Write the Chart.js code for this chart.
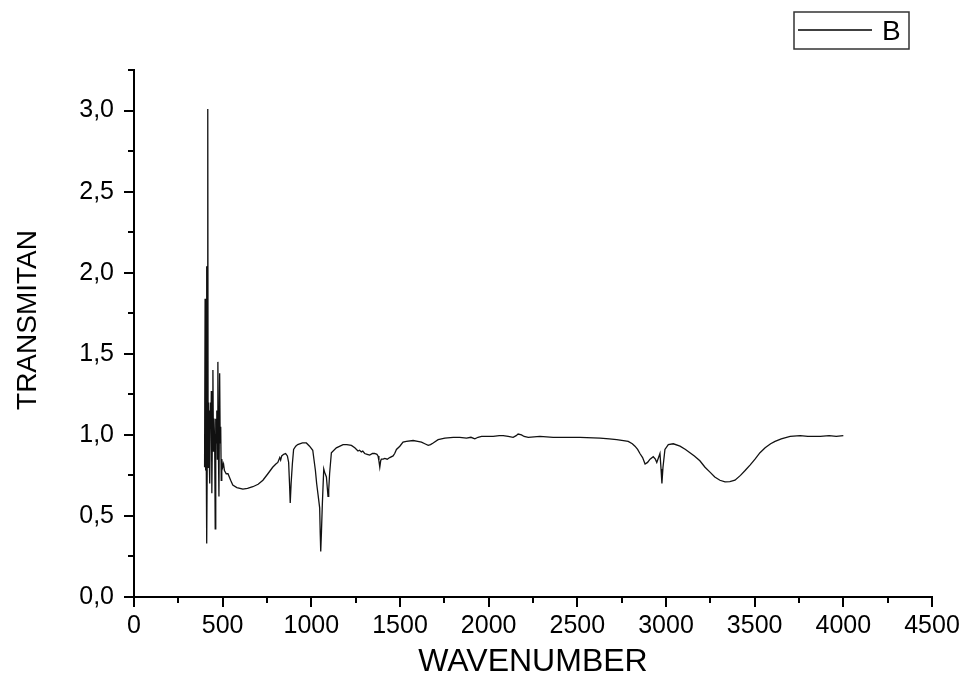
<!DOCTYPE html>
<html>
<head>
<meta charset="utf-8">
<title>FTIR spectrum</title>
<script src="https://cdn.jsdelivr.net/npm/chart.js@4.4.1/dist/chart.umd.min.js"></script>
<style>
  html, body { margin: 0; padding: 0; background: #fff; }
  #wrap { width: 965px; height: 677px; }
</style>
</head>
<body>
<div id="wrap"><canvas id="irChart"></canvas></div>
<script>
// spectrum, wavenumber (cm-1) vs transmittance
let wavenumbers = [
  398, 401, 403, 405, 407, 409, 411, 414, 416, 418, 420, 423, 426, 428, 431, 434, 436, 439, 442, 445,
  448, 451, 455, 458, 461, 464, 467, 470, 473, 476, 479, 483, 486, 489, 492, 495, 500, 505, 510, 520,
  530, 545, 557, 580, 614, 640, 670, 700, 727, 755, 782, 800, 811, 822, 827, 833, 844, 855, 865, 872,
  877, 881, 886, 893, 900, 912, 923, 950, 972, 990, 1008, 1023, 1030, 1038, 1047, 1050, 1053, 1057, 1062, 1070,
  1075, 1085, 1094, 1098, 1103, 1113, 1141, 1179, 1200, 1226, 1245, 1263, 1272, 1282, 1290, 1301, 1315, 1329, 1345, 1357,
  1370, 1376, 1381, 1386, 1391, 1395, 1405, 1414, 1428, 1442, 1461, 1470, 1480, 1499, 1517, 1536, 1574, 1600, 1621, 1640,
  1659, 1672, 1687, 1715, 1753, 1800, 1837, 1875, 1900, 1922, 1940, 1960, 2000, 2025, 2060, 2082, 2110, 2138, 2155, 2166,
  2185, 2200, 2223, 2289, 2364, 2450, 2515, 2628, 2680, 2722, 2760, 2787, 2810, 2825, 2840, 2853, 2868, 2882, 2896, 2910,
  2928, 2940, 2948, 2958, 2966, 2972, 2977, 2983, 2994, 3013, 3041, 3079, 3110, 3135, 3160, 3191, 3220, 3248, 3275, 3304,
  3333, 3360, 3389, 3420, 3446, 3475, 3502, 3530, 3559, 3590, 3615, 3650, 3700, 3757, 3800, 3870, 3920, 3960, 4000
];
let transmittance = [
  0.80, 1.84, 0.78, 1.84, 0.95, 2.04, 0.33, 1.00, 3.01, 0.80, 1.20, 0.95, 1.15, 0.70, 1.20, 1.05, 1.27, 0.64, 1.00, 1.40,
  0.90, 1.10, 0.95, 0.42, 1.10, 0.95, 1.15, 0.85, 1.45, 0.90, 0.62, 1.38, 0.95, 1.05, 0.72, 0.85, 0.80, 0.82, 0.78, 0.76,
  0.76, 0.72, 0.69, 0.675, 0.665, 0.67, 0.68, 0.695, 0.72, 0.76, 0.80, 0.82, 0.83, 0.86, 0.845, 0.87, 0.88, 0.885, 0.87, 0.83,
  0.70, 0.58, 0.70, 0.82, 0.91, 0.93, 0.94, 0.95, 0.95, 0.93, 0.905, 0.78, 0.70, 0.63, 0.55, 0.40, 0.28, 0.40, 0.57, 0.79,
  0.77, 0.74, 0.62, 0.66, 0.76, 0.89, 0.92, 0.94, 0.94, 0.935, 0.92, 0.90, 0.905, 0.895, 0.90, 0.885, 0.88, 0.875, 0.885, 0.885,
  0.88, 0.87, 0.84, 0.80, 0.84, 0.85, 0.85, 0.855, 0.85, 0.86, 0.87, 0.885, 0.91, 0.93, 0.955, 0.96, 0.965, 0.96, 0.955, 0.945,
  0.935, 0.94, 0.95, 0.97, 0.98, 0.985, 0.985, 0.98, 0.985, 0.975, 0.985, 0.99, 0.99, 0.99, 0.995, 0.995, 0.99, 0.985, 0.995, 1.005,
  1.00, 0.99, 0.985, 0.99, 0.985, 0.985, 0.985, 0.98, 0.975, 0.97, 0.965, 0.96, 0.945, 0.93, 0.91, 0.885, 0.86, 0.82, 0.83, 0.85,
  0.865, 0.85, 0.83, 0.86, 0.885, 0.79, 0.70, 0.80, 0.91, 0.94, 0.945, 0.93, 0.91, 0.89, 0.87, 0.84, 0.80, 0.77, 0.74, 0.72,
  0.71, 0.712, 0.72, 0.75, 0.78, 0.815, 0.85, 0.89, 0.92, 0.945, 0.96, 0.975, 0.99, 0.995, 0.99, 0.99, 0.995, 0.99, 0.995
];

let xTicks = [0, 500, 1000, 1500, 2000, 2500, 3000, 3500, 4000, 4500];
let xMinorTicks = [250, 750, 1250, 1750, 2250, 2750, 3250, 3750, 4250];
let yTicks = [0, 0.5, 1.0, 1.5, 2.0, 2.5, 3.0];
let yMinorTicks = [0.25, 0.75, 1.25, 1.75, 2.25, 2.75, 3.25];

let seriesName = "B";
let xTitle = "WAVENUMBER";
let yTitle = "TRANSMITAN";

const fontFamily = "'Liberation Sans', Arial, sans-serif";

// minor ticks, axis titles and the boxed legend
const axisExtras = {
  id: "axisExtras",
  afterDraw(chart) {
    const { ctx, chartArea, scales } = chart;
    ctx.save();

    ctx.strokeStyle = "#000";
    ctx.lineWidth = 2;
    ctx.beginPath();
    xMinorTicks.forEach(v => {
      const px = Math.round(scales.x.getPixelForValue(v));
      ctx.moveTo(px, chartArea.bottom);
      ctx.lineTo(px, chartArea.bottom + 6);
    });
    yMinorTicks.forEach(v => {
      const py = Math.round(scales.y.getPixelForValue(v));
      ctx.moveTo(chartArea.left, py);
      ctx.lineTo(chartArea.left - 6, py);
    });
    ctx.stroke();

    ctx.fillStyle = "#000";
    ctx.textAlign = "center";
    ctx.textBaseline = "middle";
    ctx.font = "32px " + fontFamily;
    ctx.fillText(xTitle, (chartArea.left + chartArea.right) / 2, 662);

    ctx.save();
    ctx.translate(28, 320);
    ctx.rotate(-Math.PI / 2);
    ctx.font = "28px " + fontFamily;
    ctx.fillText(yTitle, 0, 0);
    ctx.restore();

    // legend
    ctx.strokeStyle = "#333";
    ctx.lineWidth = 1.5;
    ctx.strokeRect(794, 12, 115, 37);
    ctx.strokeStyle = "#000";
    ctx.lineWidth = 1.5;
    ctx.beginPath();
    ctx.moveTo(798, 30);
    ctx.lineTo(872, 30);
    ctx.stroke();
    ctx.textAlign = "left";
    ctx.textBaseline = "alphabetic";
    ctx.font = "28px " + fontFamily;
    ctx.fillText(seriesName, 882, 40);

    ctx.restore();
  }
};

let points = wavenumbers.map((w, i) => ({ x: w, y: transmittance[i] }));

window.onload = function() {
  let ctx = document.getElementById("irChart").getContext("2d");
  window.irChart = new Chart(ctx, {
    type: "line",
    data: {
      datasets: [{
        label: seriesName,
        data: points,
        borderColor: "#111",
        borderWidth: 1.3,
        pointRadius: 0,
        tension: 0,
        fill: false
      }]
    },
    options: {
      responsive: true,
      maintainAspectRatio: false,
      animation: false,
      layout: { padding: { top: 70, right: 33, left: 0, bottom: 0 } },
      plugins: {
        legend: { display: false },
        tooltip: { enabled: false }
      },
      scales: {
        x: {
          type: "linear",
          min: 0,
          max: 4500,
          afterBuildTicks: axis => { axis.ticks = xTicks.map(v => ({ value: v })); },
          afterFit: axis => { axis.height = 80; },
          grid: { drawOnChartArea: false, drawTicks: true, tickLength: 10, lineWidth: 2, color: "#000" },
          border: { display: true, color: "#000", width: 2 },
          ticks: {
            color: "#000",
            padding: 4,
            maxRotation: 0,
            font: { family: fontFamily, size: 25 },
            callback: v => String(v)
          }
        },
        y: {
          type: "linear",
          min: 0,
          max: 3.25,
          afterBuildTicks: axis => { axis.ticks = yTicks.map(v => ({ value: v })); },
          afterFit: axis => { axis.width = 134; },
          grid: { drawOnChartArea: false, drawTicks: true, tickLength: 10, lineWidth: 2, color: "#000" },
          border: { display: true, color: "#000", width: 2 },
          ticks: {
            color: "#000",
            padding: 10,
            font: { family: fontFamily, size: 25 },
            callback: v => v.toFixed(1).replace(".", ",")
          }
        }
      }
    },
    plugins: [axisExtras]
  });
};
</script>
</body>
</html>
